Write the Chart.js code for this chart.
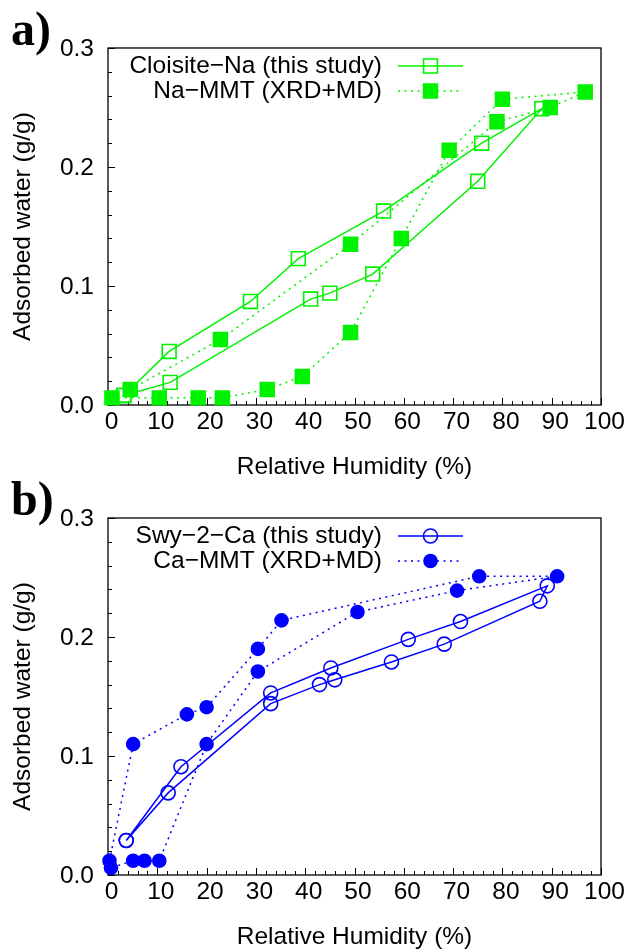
<!DOCTYPE html>
<html lang="en">
<head>
    <meta charset="UTF-8">
    <title>Water adsorption isotherms</title>
    <script src="https://cdn.jsdelivr.net/npm/chart.js"></script>
    <style>
        body { margin: 0; background: #fff; width: 628px; height: 949px; position: relative; overflow: hidden; }
        canvas { position: absolute; left: 0; }
        .tag { position: absolute; left: 11px; font: bold 48px "Liberation Serif", serif; line-height: 1; }
    </style>
</head>
<body>
    <canvas id="chartA" width="628" height="479" style="top: 0px;"></canvas>
    <canvas id="chartB" width="628" height="479" style="top: 470px;"></canvas>
    <div class="tag" style="top: 5px;">a)</div>
    <div class="tag" style="top: 475px;">b)</div>
    <script>
        // a) Cloisite-Na, loop (adsorption up, desorption back)
        const naRH = [3.2, 12.4, 28.9, 38.6, 55.9, 75.8, 88.0, 75.0, 53.7, 45.0, 41.1, 12.6, 3.2];
        const naW  = [0.008, 0.045, 0.087, 0.123, 0.163, 0.220, 0.249, 0.188, 0.110, 0.094, 0.089, 0.019, 0.008];
        // a) Na-MMT (XRD+MD)
        const naMdRH = [0.8, 10.4, 18.3, 23.2, 32.3, 39.4, 49.2, 59.5, 69.2, 80.0, 96.8, 89.7, 78.9, 49.2, 22.8, 4.5];
        const naMdW  = [0.006, 0.006, 0.006, 0.006, 0.013, 0.024, 0.061, 0.140, 0.214, 0.257, 0.263, 0.250, 0.238, 0.135, 0.055, 0.013];

        // b) Swy-2-Ca
        const caRH = [3.7, 14.8, 33.0, 45.2, 60.9, 71.5, 89.1, 87.6, 68.2, 57.5, 46.0, 42.9, 33.0, 12.2, 3.7];
        const caW  = [0.029, 0.091, 0.153, 0.174, 0.198, 0.213, 0.243, 0.230, 0.194, 0.179, 0.164, 0.160, 0.144, 0.069, 0.029];
        // b) Ca-MMT (XRD+MD)
        const caMdRH = [0.3, 5.1, 16.0, 20.0, 30.4, 35.2, 75.3, 91.1, 70.8, 50.6, 30.4, 20.0, 10.4, 7.4, 5.1, 0.6];
        const caMdW  = [0.012, 0.110, 0.135, 0.141, 0.190, 0.214, 0.251, 0.251, 0.239, 0.221, 0.171, 0.110, 0.012, 0.012, 0.012, 0.006];

        const xTicks = [0, 10, 20, 30, 40, 50, 60, 70, 80, 90, 100];
        const yTicks = [0.0, 0.1, 0.2, 0.3];

        const GREEN = '#00f200';
        const BLUE = '#0000ff';
        const FONT = '"Liberation Sans", Arial, sans-serif';
        const FSIZE = 24.5;

        function pts(xs, ys) {
            return xs.map((x, i) => ({ x: x, y: ys[i] }));
        }

        // gnuplot-like frame: black box, inward ticks on left and bottom only
        const frame = {
            id: 'frame',
            beforeDatasetsDraw(chart) {
                const { ctx, chartArea: a, scales } = chart;
                ctx.save();
                ctx.strokeStyle = '#000';
                ctx.lineWidth = 1.3;
                ctx.strokeRect(a.left, a.top, a.right - a.left, a.bottom - a.top);
                ctx.lineWidth = 1;
                ctx.beginPath();
                for (let v = 0; v <= 100; v += 2) {
                    const px = Math.round(scales.x.getPixelForValue(v)) + 0.5;
                    const len = v % 10 === 0 ? 7 : 4;
                    ctx.moveTo(px, a.bottom);
                    ctx.lineTo(px, a.bottom - len);
                }
                for (let i = 0; i <= 15; i++) {
                    const py = Math.round(scales.y.getPixelForValue(i * 0.02)) + 0.5;
                    const len = i % 5 === 0 ? 7 : 4;
                    ctx.moveTo(a.left, py);
                    ctx.lineTo(a.left + len, py);
                }
                ctx.stroke();
                ctx.restore();
            }
        };

        // key at top-left: text right-aligned, sample line + marker to its right
        const key = {
            id: 'key',
            afterDraw(chart) {
                const ctx = chart.ctx;
                ctx.save();
                ctx.font = FSIZE + 'px ' + FONT;
                ctx.textAlign = 'right';
                ctx.textBaseline = 'middle';
                chart.data.datasets.forEach((ds, i) => {
                    const y = 66 + i * 25;
                    ctx.fillStyle = '#000';
                    ctx.fillText(ds.label, 382, y);
                    ctx.strokeStyle = ds.borderColor;
                    ctx.lineWidth = ds.borderWidth;
                    ctx.setLineDash(ds.borderDash || []);
                    ctx.beginPath();
                    ctx.moveTo(398, y);
                    ctx.lineTo(463, y);
                    ctx.stroke();
                    ctx.setLineDash([]);
                    ctx.fillStyle = ds.pointBackgroundColor;
                    ctx.lineWidth = ds.pointBorderWidth;
                    const cx = 430.5, r = ds.pointRadius;
                    ctx.beginPath();
                    if (ds.pointStyle === 'rect') {
                        const h = r * Math.SQRT1_2;
                        ctx.rect(cx - h, y - h, 2 * h, 2 * h);
                    } else {
                        ctx.arc(cx, y, r, 0, Math.PI * 2);
                    }
                    ctx.fill();
                    ctx.stroke();
                });
                ctx.restore();
            }
        };

        function series(label, xs, ys, color, dotted, style, filled, radius) {
            return {
                label: label,
                data: pts(xs, ys),
                showLine: true,
                borderColor: color,
                borderWidth: 1.5,
                borderDash: dotted ? [2, 4.5] : [],
                pointStyle: style,
                pointRadius: radius,
                pointHoverRadius: radius,
                pointBorderWidth: 1.6,
                pointBorderColor: color,
                pointBackgroundColor: filled ? color : 'rgba(0,0,0,0)',
                tension: 0,
                clip: false,
                order: filled ? 1 : 2
            };
        }

        function makeChart(id, datasets) {
            const ctx = document.getElementById(id).getContext('2d');
            return new Chart(ctx, {
                type: 'scatter',
                data: { datasets: datasets },
                options: {
                    responsive: false,
                    animation: false,
                    devicePixelRatio: 1,
                    layout: { padding: { left: 0, right: 27, top: 48, bottom: 0 } },
                    plugins: { legend: { display: false }, tooltip: { enabled: false } },
                    scales: {
                        x: {
                            type: 'linear',
                            min: 0,
                            max: 100,
                            afterFit: s => { s.height = 74; },
                            afterBuildTicks: s => { s.ticks = xTicks.map(v => ({ value: v })); },
                            grid: { display: false, drawTicks: false },
                            border: { display: false },
                            ticks: { color: '#000', font: { family: FONT, size: FSIZE }, padding: 3,
                                     labelOffset: 3.5, maxRotation: 0, autoSkip: false },
                            title: { display: true, text: 'Relative Humidity (%)', color: '#000',
                                     font: { family: FONT, size: FSIZE, lineHeight: 1 }, padding: { top: 0, bottom: 0 } }
                        },
                        y: {
                            type: 'linear',
                            min: 0,
                            max: 0.3,
                            afterFit: s => { s.width = 108; },
                            afterBuildTicks: s => { s.ticks = yTicks.map(v => ({ value: v })); },
                            grid: { display: false, drawTicks: false },
                            border: { display: false },
                            ticks: { color: '#000', font: { family: FONT, size: FSIZE }, padding: 14,
                                     labelOffset: 1.5, callback: v => v.toFixed(1) },
                            title: { display: true, text: 'Adsorbed water (g/g)', color: '#000',
                                     font: { family: FONT, size: FSIZE, lineHeight: 1 }, padding: { top: 11, bottom: 0 } }
                        }
                    }
                },
                plugins: [frame, key]
            });
        }

        makeChart('chartA', [
            series('Cloisite\u2212Na (this study)', naRH, naW, GREEN, false, 'rect', false, 9.8),
            series('Na\u2212MMT (XRD+MD)', naMdRH, naMdW, GREEN, true, 'rect', true, 9.8)
        ]);
        makeChart('chartB', [
            series('Swy\u22122\u2212Ca (this study)', caRH, caW, BLUE, false, 'circle', false, 7),
            series('Ca\u2212MMT (XRD+MD)', caMdRH, caMdW, BLUE, true, 'circle', true, 6.5)
        ]);
    </script>
</body>
</html>
